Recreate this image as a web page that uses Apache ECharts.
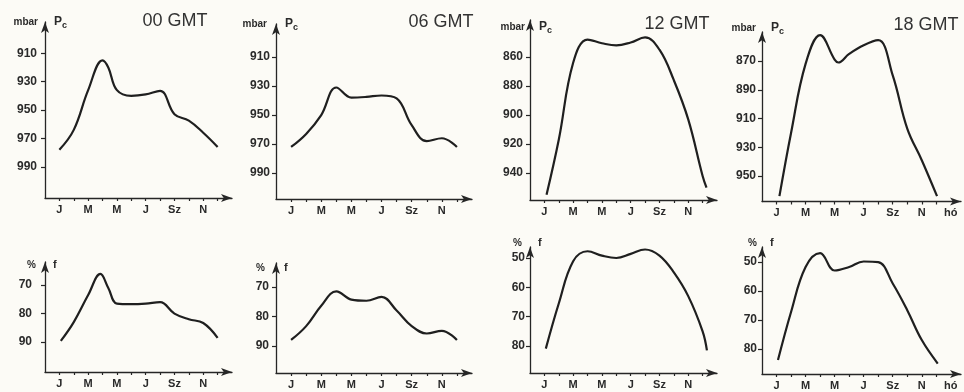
<!DOCTYPE html>
<html>
<head>
<meta charset="utf-8">
<script src="https://cdn.jsdelivr.net/npm/echarts@6/dist/echarts.min.js"></script>
<style>
  html, body { margin: 0; background: #fcfbf6; }
  #chart { width: 964px; height: 392px; }
</style>
</head>
<body>
<div id="chart"></div>
<script>
// hónapok: 1 = január ... 12 = december
const months = [1, 2, 3, 4, 5, 6, 7, 8, 9, 10, 11, 12];
const monthNames = { 1: "J", 3: "M", 5: "M", 7: "J", 9: "Sz", 11: "N", 13: "hó" };

// tengely feliratok
const pcTicks00 = [910, 930, 950, 970, 990];
const pcTicks06 = [910, 930, 950, 970, 990];
const pcTicks12 = [860, 880, 900, 920, 940];
const pcTicks18 = [870, 890, 910, 930, 950];
const fTicks00 = [70, 80, 90];
const fTicks06 = [70, 80, 90];
const fTicks12 = [50, 60, 70, 80];
const fTicks18 = [50, 60, 70, 80];

// Pc (mbar) - [hónap, érték]
const pc00 = [[1, 978], [2, 964], [3, 936], [4, 915], [4.4, 920], [5, 936], [6, 940], [7, 939], [8, 936.5], [9, 953], [10, 957.5], [11, 966], [12, 976]];
const pc06 = [[1, 972], [2, 963], [3, 950], [4, 931], [5, 938], [6, 937.5], [7, 936.5], [8, 938.5], [9, 957], [10, 968], [11, 966], [12, 972]];
const pc12 = [[1.15, 955], [2, 917], [3, 864], [4, 848], [5, 850.5], [6, 852], [7, 850], [8, 846.5], [9, 855], [10, 876], [11, 903], [12, 942], [12.27, 950]];
const pc18 = [[1.2, 964], [2, 920], [3, 872], [4, 852], [5, 869], [5.25, 871], [6, 865], [7, 859], [8, 855.5], [9, 880], [10, 917], [11, 939], [12.05, 964]];

// f (%) - [hónap, érték]
const f00 = [[1.1, 89.6], [2, 83], [3, 73.5], [3.85, 66.1], [4.4, 71], [5, 76.5], [6, 76.7], [7, 76.5], [8, 76], [9, 80], [10, 82], [11, 83.3], [12, 88.5]];
const f06 = [[1, 88], [2, 83.3], [3, 76.4], [4, 71.5], [5, 74.3], [6, 74.7], [7, 73.4], [8, 78], [9, 83.3], [10, 85.8], [11, 84.9], [12, 88]];
const f12 = [[1.1, 80.9], [2, 65.5], [3, 51.1], [4, 47.7], [5, 49.2], [6, 50], [7, 48.6], [8, 47.1], [9, 49.2], [10, 54.9], [11, 63], [12, 75], [12.3, 81.5]];
const f18 = [[1.1, 83.8], [2, 67.2], [3, 51.7], [4, 46.9], [5, 52.9], [6, 51.7], [7, 49.8], [8, 50], [9, 57.4], [10, 66.6], [11, 76.9], [12.1, 85]];

const ink = "#262626";
const font = "Liberation Sans";

// oszlopok (x irány)
const cols = [
  { left: 45, width: 187, xmax: 13, title: "00 GMT", tx: 175, ty: 21, hoLabel: false },
  { left: 276, width: 196, xmax: 13, title: "06 GMT", tx: 441, ty: 22, hoLabel: false },
  { left: 530, width: 187, xmax: 13, title: "12 GMT", tx: 677, ty: 24, hoLabel: false },
  { left: 762, width: 199, xmax: 13.7, title: "18 GMT", tx: 926, ty: 25, hoLabel: true }
];

// panelek
const panels = [
  { col: 0, data: pc00, ticks: pcTicks00, top: 22, bottom: 198, min: 888, max: 1012, margin: 8, kind: "p", nx: 38, ny: 22 },
  { col: 1, data: pc06, ticks: pcTicks06, top: 24, bottom: 199, min: 887.2, max: 1007.9, margin: 6, kind: "p", nx: 267, ny: 24 },
  { col: 2, data: pc12, ticks: pcTicks12, top: 20, bottom: 200, min: 834.5, max: 958.6, margin: 7, kind: "p", nx: 525, ny: 27 },
  { col: 3, data: pc18, ticks: pcTicks18, top: 32, bottom: 201.5, min: 849.8, max: 967.7, margin: 6, kind: "p", nx: 756, ny: 28 },
  { col: 0, data: f00, ticks: fTicks00, top: 262, bottom: 372, min: 61.9, max: 100.5, margin: 13, kind: "f", nx: 36, ny: 265 },
  { col: 1, data: f06, ticks: fTicks06, top: 263, bottom: 373, min: 61.9, max: 99.2, margin: 7, kind: "f", nx: 265, ny: 268 },
  { col: 2, data: f12, ticks: fTicks12, top: 247, bottom: 373, min: 46.25, max: 89.2, margin: 5, kind: "f", nx: 522, ny: 243 },
  { col: 3, data: f18, ticks: fTicks18, top: 247, bottom: 374, min: 44.8, max: 88.6, margin: 5, kind: "f", nx: 757, ny: 243 }
];

const grid = [], xAxis = [], yAxis = [], series = [], graphic = [];

panels.forEach((p, i) => {
  const c = cols[p.col];
  grid.push({ left: c.left, top: p.top, width: c.width, height: p.bottom - p.top, outerBoundsMode: "none" });

  const labelVals = c.hoLabel ? [1, 3, 5, 7, 9, 11, 13] : [1, 3, 5, 7, 9, 11];
  xAxis.push({
    type: "value", gridIndex: i, min: 0, max: c.xmax,
    axisLine: { show: true, lineStyle: { color: ink, width: 1.3 }, symbol: ["none", "arrow"], symbolSize: [6, 11] },
    axisTick: { show: true, customValues: months, length: 3, lineStyle: { color: ink, width: 1.2 } },
    axisLabel: {
      customValues: labelVals, formatter: (v) => monthNames[v] || "",
      color: "#2a2a2a", fontFamily: font, fontWeight: "bold", fontSize: 11, margin: 6
    },
    splitLine: { show: false }
  });

  yAxis.push({
    type: "value", gridIndex: i, inverse: true, min: p.min, max: p.max,
    axisLine: { show: true, lineStyle: { color: ink, width: 1.3 }, symbol: ["none", "arrow"], symbolSize: [6, 11] },
    axisTick: { show: true, customValues: p.ticks, length: 4, lineStyle: { color: ink, width: 1.2 } },
    axisLabel: {
      customValues: p.ticks, color: "#2a2a2a", fontFamily: font, fontWeight: "bold",
      fontSize: 12, margin: p.margin
    },
    splitLine: { show: false }
  });

  series.push({
    type: "line", xAxisIndex: i, yAxisIndex: i, data: p.data,
    smooth: 0.4, showSymbol: false, clip: false,
    lineStyle: { color: "#1f1f1f", width: 2.2 }
  });

  // tengely nevek
  const axX = c.left;
  if (p.kind === "p") {
    graphic.push({ type: "text", x: p.nx, y: p.ny, style: { text: "mbar", fill: "#2a2a2a", font: "bold 10px " + font, align: "right", verticalAlign: "middle" } });
    graphic.push({ type: "text", x: axX + 9, y: p.ny, style: { text: "P", fill: "#2a2a2a", font: "bold 12px " + font, verticalAlign: "middle" } });
    graphic.push({ type: "text", x: axX + 17, y: p.ny + 4, style: { text: "c", fill: "#2a2a2a", font: "bold 9px " + font, verticalAlign: "middle" } });
  } else {
    graphic.push({ type: "text", x: p.nx, y: p.ny, style: { text: "%", fill: "#2a2a2a", font: "bold 10px " + font, align: "right", verticalAlign: "middle" } });
    graphic.push({ type: "text", x: axX + 8, y: p.ny, style: { text: "f", fill: "#2a2a2a", font: "bold 11px " + font, verticalAlign: "middle" } });
  }
});

cols.forEach((c) => {
  graphic.push({ type: "text", x: c.tx, y: c.ty, style: { text: c.title, fill: "#333", font: "18px " + font, align: "center", verticalAlign: "middle" } });
});

const myChart = echarts.init(document.getElementById("chart"), null, { renderer: "canvas" });
myChart.setOption({
  backgroundColor: "#fcfbf6",
  animation: false,
  grid: grid,
  xAxis: xAxis,
  yAxis: yAxis,
  series: series,
  graphic: graphic
});
</script>
</body>
</html>
